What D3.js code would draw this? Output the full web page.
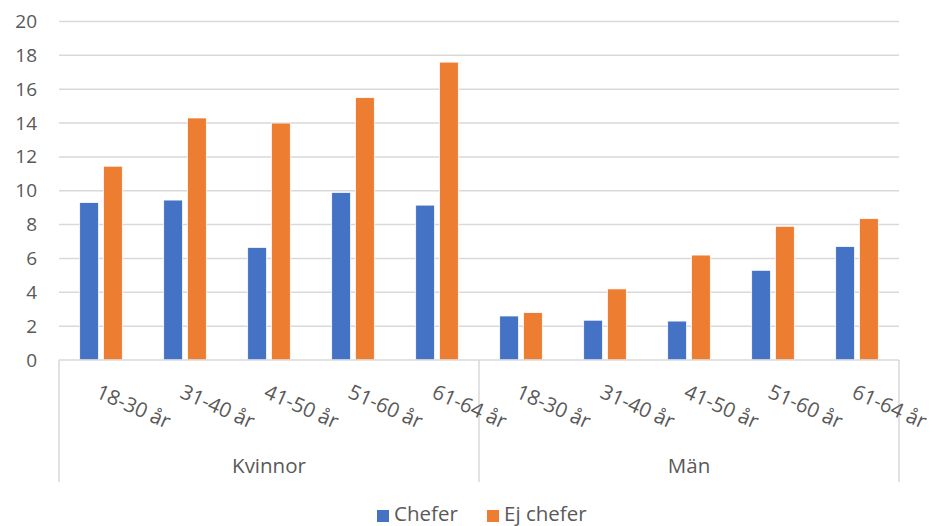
<!DOCTYPE html>
<html>
<head>
<meta charset="utf-8">
<script src="https://cdn.jsdelivr.net/npm/d3@7"></script>
<style>
  html, body { margin: 0; padding: 0; background: #fff; }
  svg { display: block; font-family: "Open Sans", "Noto Sans", sans-serif; }
</style>
</head>
<body>
<svg id="chart" width="934" height="526"></svg>
<script>
// Grouping and categories
const groups = ["Kvinnor", "Män"];
const ages = ["18-30 år", "31-40 år", "41-50 år", "51-60 år", "61-64 år"];
const seriesNames = ["Chefer", "Ej chefer"];
const seriesColors = ["#4472C4", "#ED7D31"];

// Values per age group, Kvinnor first then Män
const chefer   = [9.3, 9.45, 6.65, 9.9, 9.15,   2.6, 2.35, 2.3, 5.3, 6.7];
const ejChefer = [11.45, 14.3, 14.0, 15.5, 17.6, 2.8, 4.2, 6.2, 7.9, 8.35];

const yTicks = [0, 2, 4, 6, 8, 10, 12, 14, 16, 18, 20];

// Build rows from the arrays
const rows = [];
groups.forEach((g, gi) => {
  ages.forEach((a, ai) => {
    const i = gi * ages.length + ai;
    rows.push({ key: g + "|" + a, group: g, age: a, values: [chefer[i], ejChefer[i]] });
  });
});

const svg = d3.select("#chart");
const plotLeft = 59, plotRight = 899, plotTop = 21.5, plotBottom = 360;
const textColor = "#595959";
const gridColor = "#d9d9d9";
const fontSize = 19;
const catFontSize = 20.5;

const x0 = d3.scaleBand().domain(rows.map(r => r.key)).range([plotLeft, plotRight]).padding(0);
const x1 = d3.scaleBand().domain(seriesNames).range([0, x0.bandwidth()])
  .paddingInner(0.21).paddingOuter(0.87);
const y = d3.scaleLinear().domain([0, 20]).range([plotBottom, plotTop]);

// Gridlines
svg.append("g")
  .selectAll("line")
  .data(yTicks.filter(t => t > 0))
  .join("line")
  .attr("x1", plotLeft).attr("x2", plotRight)
  .attr("y1", d => y(d)).attr("y2", d => y(d))
  .attr("stroke", gridColor).attr("stroke-width", 1.5);

// Y axis labels
const yAxis = svg.append("g")
  .attr("transform", `translate(${plotLeft - 22},0)`)
  .call(d3.axisLeft(y).tickValues(yTicks).tickSize(0).tickPadding(0));
yAxis.select(".domain").remove();
yAxis.selectAll("text")
  .attr("fill", textColor)
  .style("font-size", fontSize + "px")
  .style("font-family", "'Open Sans', sans-serif");

// Bars
const barG = svg.append("g")
  .selectAll("g")
  .data(rows)
  .join("g")
  .attr("transform", d => `translate(${x0(d.key)},0)`);

barG.selectAll("rect")
  .data(d => d.values.map((v, i) => ({ name: seriesNames[i], value: v, i })))
  .join("rect")
  .attr("x", d => x1(d.name))
  .attr("width", x1.bandwidth())
  .attr("y", d => y(d.value))
  .attr("height", d => y(0) - y(d.value))
  .attr("fill", d => seriesColors[d.i])
  .attr("stroke", "#fff")
  .attr("stroke-width", 0.75);

// Category axis line
svg.append("line")
  .attr("x1", plotLeft).attr("x2", plotRight)
  .attr("y1", plotBottom).attr("y2", plotBottom)
  .attr("stroke", gridColor).attr("stroke-width", 1.5);

// Group separators
const groupEdges = [plotLeft];
groups.forEach(g => {
  const lastKey = g + "|" + ages[ages.length - 1];
  groupEdges.push(x0(lastKey) + x0.bandwidth());
});
svg.append("g")
  .selectAll("line")
  .data(groupEdges)
  .join("line")
  .attr("x1", d => d).attr("x2", d => d)
  .attr("y1", plotBottom).attr("y2", 482)
  .attr("stroke", gridColor).attr("stroke-width", 1.5);

// Rotated age labels
svg.append("g")
  .selectAll("text")
  .data(rows)
  .join("text")
  .attr("transform", d => `translate(${x0(d.key) + x0.bandwidth() / 2 + 1},${plotBottom + 21}) rotate(24)`)
  .attr("text-anchor", "start")
  .attr("dominant-baseline", "hanging")
  .attr("fill", textColor)
  .style("font-size", catFontSize + "px")
  .text(d => d.age);

// Group labels
svg.append("g")
  .selectAll("text")
  .data(groups)
  .join("text")
  .attr("x", g => {
    const a = x0(g + "|" + ages[0]);
    const b = x0(g + "|" + ages[ages.length - 1]) + x0.bandwidth();
    return (a + b) / 2;
  })
  .attr("y", 473)
  .attr("text-anchor", "middle")
  .attr("fill", textColor)
  .style("font-size", catFontSize + "px")
  .text(g => g);

// Legend
const legendItems = [
  { name: seriesNames[0], color: seriesColors[0], x: 377 },
  { name: seriesNames[1], color: seriesColors[1], x: 487 }
];
const lg = svg.append("g").selectAll("g").data(legendItems).join("g")
  .attr("transform", d => `translate(${d.x},0)`);
lg.append("rect")
  .attr("x", 0).attr("y", 510).attr("width", 12).attr("height", 12)
  .attr("fill", d => d.color);
lg.append("text")
  .attr("x", 17).attr("y", 521)
  .attr("fill", textColor)
  .style("font-size", catFontSize + "px")
  .text(d => d.name);
</script>
</body>
</html>
